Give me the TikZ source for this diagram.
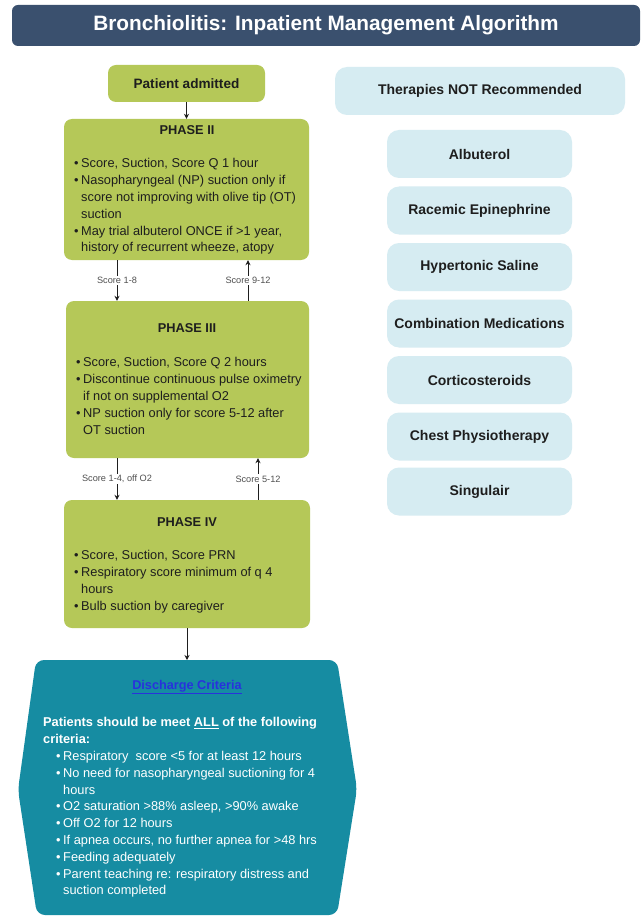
\documentclass[tikz,border=0pt]{standalone}
\usepackage{fontspec}
\setmainfont{Liberation Sans}
\usetikzlibrary{arrows.meta}
\definecolor{navy}{RGB}{58,80,110}
\definecolor{olive}{RGB}{181,200,88}
\definecolor{pale}{RGB}{214,236,242}
\definecolor{teal2}{RGB}{22,140,162}
\definecolor{ink}{RGB}{30,30,30}
\definecolor{linkblue}{RGB}{40,50,220}
\definecolor{lbl}{RGB}{80,80,80}
\newcommand{\bul}{\makebox[7pt][l]{\textbullet}}
\newcommand{\ind}{\hspace*{7pt}}
\begin{document}
\begin{tikzpicture}[x=1pt,y={(0pt,-1pt)},
  greenbox/.style={fill=olive, rounded corners=8pt, inner sep=0pt},
  palebox/.style={fill=pale, rounded corners=12pt, inner sep=0pt, minimum height=48pt, text=ink, font=\fontsize{14}{16}\selectfont\bfseries},
  bodytext/.style={anchor=north west, inner sep=0pt, align=left, text=ink, font=\fontsize{12.8}{16.8}\selectfont},
  phasetitle/.style={inner sep=0pt, text=ink, font=\fontsize{12.8}{15}\selectfont\bfseries},
  arr/.style={draw=ink, line width=0.9pt, -{Stealth[length=5pt,width=5pt]}},
  scorelbl/.style={fill=white, inner sep=1.5pt, text=lbl, font=\fontsize{9.2}{10}\selectfont}
]
\useasboundingbox (0,0) rectangle (643,917);
\fill[white] (0,0) rectangle (643,917);

% title
\node[fill=navy, rounded corners=6pt, minimum width=628pt, minimum height=41pt, inner sep=0pt,
      text=white, font=\fontsize{20.8}{24}\selectfont\bfseries] (title) at (326,25.5)
      {Bronchiolitis: Inpatient Management Algorithm};

% left column boxes
\node[greenbox, minimum width=157pt, minimum height=37pt, text=ink, font=\fontsize{13.6}{15}\selectfont\bfseries] (adm) at (186.5,83.5) {Patient admitted};
\node[greenbox, minimum width=245pt, minimum height=141pt] (p2) at (186.5,189.5) {};
\node[greenbox, minimum width=243pt, minimum height=157pt] (p3) at (187.5,379.5) {};
\node[greenbox, minimum width=246pt, minimum height=128pt] (p4) at (187,564) {};

\node[phasetitle] (p2t) at (187,130) {PHASE II};
\node[bodytext] (p2b) at (74,158.5) {\bul Score, Suction, Score Q 1 hour\\
\bul Nasopharyngeal (NP) suction only if\\
\ind score not improving with olive tip (OT)\\
\ind suction\\
\bul May trial albuterol ONCE if >1 year,\\
\ind history of recurrent wheeze, atopy};

\node[phasetitle] (p3t) at (187,328) {PHASE III};
\node[bodytext] (p3b) at (76,357.5) {\bul Score, Suction, Score Q 2 hours\\
\bul Discontinue continuous pulse oximetry\\
\ind if not on supplemental O2\\
\bul NP suction only for score 5-12 after\\
\ind OT suction};

\node[phasetitle] (p4t) at (187,522) {PHASE IV};
\node[bodytext] (p4b) at (74,550.5) {\bul Score, Suction, Score PRN\\
\bul Respiratory score minimum of q 4\\
\ind hours\\
\bul Bulb suction by caregiver};

% discharge shape
\fill[teal2, rounded corners=8pt] (36,660) -- (337,660) -- (357,789) -- (337,915) -- (37,915) -- (18,790) -- cycle;
\coordinate (dtop) at (187,660);
\node[inner sep=0pt, text=linkblue, font=\fontsize{12.7}{14}\selectfont\bfseries] (dct) at (187,687) {\underline{Discharge Criteria}};
\node[bodytext, text=white] (dcb) at (43,717.5) {\textbf{Patients should be meet \underline{ALL} of the following}\\
\textbf{criteria:}\\
\hspace*{13pt}\bul Respiratory\ \ score <5 for at least 12 hours\\
\hspace*{13pt}\bul No need for nasopharyngeal suctioning for 4\\
\hspace*{13pt}\ind hours\\
\hspace*{13pt}\bul O2 saturation >88\% asleep, >90\% awake\\
\hspace*{13pt}\bul Off O2 for 12 hours\\
\hspace*{13pt}\bul If apnea occurs, no further apnea for >48 hrs\\
\hspace*{13pt}\bul Feeding adequately\\
\hspace*{13pt}\bul Parent teaching re: respiratory distress and\\
\hspace*{13pt}\ind suction completed};

% connectors
\coordinate (xa) at (117,0);
\coordinate (xb) at (248,0);
\coordinate (xc) at (258,0);
\draw[arr] (adm.south) -- (p2.north);
\draw[arr] (p2.south -| xa) -- node[scorelbl] (l18) {Score 1-8} (p3.north -| xa);
\draw[arr] (p3.north -| xb) -- node[scorelbl] (l912) {Score 9-12} (p2.south -| xb);
\draw[arr] (p3.south -| xa) -- node[scorelbl] (l14) {Score 1-4, off O2} (p4.north -| xa);
\draw[arr] (p4.north -| xc) -- node[scorelbl] (l512) {Score 5-12} (p3.south -| xc);
\draw[arr] (p4.south) -- (dtop);

% right column
\node[palebox, minimum width=290pt] (tnr) at (480,91) {Therapies NOT Recommended};
\node[palebox, minimum width=185pt] (t1) at (479.5,154) {Albuterol};
\node[palebox, minimum width=185pt] (t2) at (479.5,210.5) {Racemic Epinephrine};
\node[palebox, minimum width=185pt] (t3) at (479.5,267) {Hypertonic Saline};
\node[palebox, minimum width=185pt] (t4) at (479.5,323.5) {Combination Medications};
\node[palebox, minimum width=185pt] (t5) at (479.5,380) {Corticosteroids};
\node[palebox, minimum width=185pt] (t6) at (479.5,436.5) {Chest Physiotherapy};
\node[palebox, minimum width=185pt] (t7) at (479.5,491.5) {Singulair};
\end{tikzpicture}
\end{document}
